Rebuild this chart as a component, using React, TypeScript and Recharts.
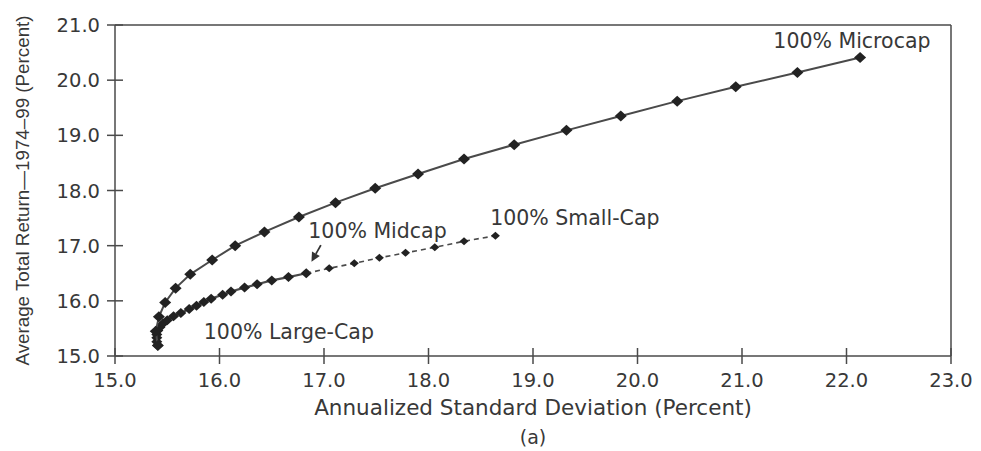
import { ScatterChart, Scatter, XAxis, YAxis, ReferenceLine, ReferenceDot, Label } from 'recharts'

// large-cap -> microcap mixes (upper curve)
const microStd = [15.41, 15.39, 15.42, 15.48, 15.58, 15.72, 15.93, 16.15, 16.43, 16.76, 17.11, 17.49, 17.9, 18.34, 18.82, 19.32, 19.84, 20.38, 20.94, 21.53, 22.13]
const microRet = [15.19, 15.45, 15.71, 15.97, 16.23, 16.48, 16.74, 17.0, 17.25, 17.52, 17.78, 18.04, 18.3, 18.57, 18.83, 19.09, 19.35, 19.62, 19.88, 20.14, 20.41]

// large-cap -> midcap mixes (lower solid curve)
const midStd = [15.41, 15.4, 15.4, 15.4, 15.41, 15.43, 15.46, 15.5, 15.56, 15.63, 15.71, 15.78, 15.85, 15.92, 16.03, 16.11, 16.24, 16.36, 16.5, 16.66, 16.83]
const midRet = [15.19, 15.26, 15.33, 15.39, 15.46, 15.52, 15.59, 15.65, 15.72, 15.78, 15.85, 15.91, 15.98, 16.04, 16.11, 16.17, 16.24, 16.3, 16.37, 16.43, 16.5]

// midcap -> small-cap mixes (dashed)
const smallStd = [16.83, 17.05, 17.29, 17.53, 17.78, 18.06, 18.34, 18.64]
const smallRet = [16.5, 16.59, 16.68, 16.78, 16.87, 16.97, 17.08, 17.18]

const xTicks = [15, 16, 17, 18, 19, 20, 21, 22, 23]
const yTicks = [15, 16, 17, 18, 19, 20, 21]

const noteTexts = ['100% Microcap', '100% Midcap', '100% Small-Cap', '100% Large-Cap']
const noteX = [21.3, 16.85, 18.59, 15.85]
const noteY = [20.72, 17.28, 17.5, 15.45]

const zip = (xs: number[], ys: number[]) => xs.map((x, i) => ({ x, y: ys[i] }))
const microData = zip(microStd, microRet)
const midData = zip(midStd, midRet)
const smallData = zip(smallStd, smallRet)

const FONT = '"DejaVu Sans", sans-serif'
const TEXT = '#383838'
const AXIS = '#4a4a4a'

function diamond(w: number, h: number) {
  return (p: any) => (
    <polygon
      points={`${p.cx - w},${p.cy} ${p.cx},${p.cy - h} ${p.cx + w},${p.cy} ${p.cx},${p.cy + h}`}
      fill="#222"
    />
  )
}

function XTick(props: any) {
  const { x, y, payload } = props
  return (
    <g>
      <line x1={x} x2={x} y1={y - 25} y2={y - 9} stroke={AXIS} strokeWidth={1.5} />
      <text x={x} y={y} dy="0.72em" textAnchor="middle" fill={TEXT} fontSize={19.5} fontFamily={FONT}>
        {payload.value.toFixed(1)}
      </text>
    </g>
  )
}

function YTick(props: any) {
  const { x, y, payload } = props
  return (
    <g>
      <line x1={x + 7} x2={x + 23} y1={y} y2={y} stroke={AXIS} strokeWidth={1.5} />
      <text x={x} y={y} dy="0.36em" textAnchor="end" fill={TEXT} fontSize={19.5} fontFamily={FONT}>
        {payload.value.toFixed(1)}
      </text>
    </g>
  )
}

function Arrow(p: any) {
  const { x1, y1, x2, y2 } = p
  const dx = x2 - x1
  const dy = y2 - y1
  const len = Math.sqrt(dx * dx + dy * dy)
  const ux = dx / len
  const uy = dy / len
  const bx = x2 - ux * 9
  const by = y2 - uy * 9
  return (
    <g>
      <line x1={x1} y1={y1} x2={bx} y2={by} stroke="#333" strokeWidth={1.8} />
      <polygon points={`${x2},${y2} ${bx - uy * 4.5},${by + ux * 4.5} ${bx + uy * 4.5},${by - ux * 4.5}`} fill="#333" />
    </g>
  )
}

export default function App() {
  return (
    <div style={{ position: 'absolute', left: 0, top: 0, background: '#fff' }}>
      <ScatterChart width={981} height={451} margin={{ top: 25, right: 30, bottom: 35, left: 12 }}>
        <XAxis
          type="number"
          dataKey="x"
          domain={[15, 23]}
          ticks={xTicks}
          tickSize={8}
          tickMargin={9}
          tickLine={false}
          tick={<XTick />}
          axisLine={{ stroke: AXIS, strokeWidth: 1.5 }}
          height={60}
          allowDataOverflow
        >
          <Label
            value="Annualized Standard Deviation (Percent)"
            position="insideBottom"
            offset={1}
            style={{ fontSize: 21.5, fontFamily: FONT, fill: TEXT }}
          />
          <Label value="(a)" position="insideBottom" offset={-28} style={{ fontSize: 19, fontFamily: FONT, fill: TEXT }} />
        </XAxis>
        <YAxis
          type="number"
          dataKey="y"
          domain={[15, 21]}
          ticks={yTicks}
          tickSize={8}
          tickMargin={7}
          tickLine={false}
          tick={<YTick />}
          axisLine={{ stroke: AXIS, strokeWidth: 1.5 }}
          width={103}
          allowDataOverflow
        >
          <Label
            value="Average Total Return—1974–99 (Percent)"
            angle={-90}
            position="insideLeft"
            offset={10}
            style={{ textAnchor: 'middle', fontSize: 18.8, fontFamily: '"Liberation Sans", sans-serif', fill: TEXT }}
          />
        </YAxis>
        <ReferenceLine y={21} stroke={AXIS} strokeWidth={1.5} />
        <ReferenceLine x={23} stroke={AXIS} strokeWidth={1.5} />
        <Scatter
          data={midData}
          line={{ stroke: '#4a4a4a', strokeWidth: 2.2 }}
          shape={diamond(5.5, 5)}
          isAnimationActive={false}
        />
        <Scatter
          data={smallData}
          line={{ stroke: '#4a4a4a', strokeWidth: 1.6, strokeDasharray: '5 4' }}
          shape={diamond(4.5, 4)}
          isAnimationActive={false}
        />
        <Scatter
          data={microData}
          line={{ stroke: '#4a4a4a', strokeWidth: 2 }}
          shape={diamond(6, 5.5)}
          isAnimationActive={false}
        />
        <ReferenceLine
          segment={[{ x: 16.97, y: 17.01 }, { x: 16.88, y: 16.71 }]}
          shape={Arrow}
        />
        {noteTexts.map((t, i) => (
          <ReferenceDot
            key={t}
            x={noteX[i]}
            y={noteY[i]}
            r={0}
            shape={(p: any) => (
              <text x={p.cx} y={p.cy} dy="0.36em" fill={TEXT} fontSize={20.5} fontFamily={FONT}>
                {t}
              </text>
            )}
          />
        ))}
      </ScatterChart>
    </div>
  )
}
